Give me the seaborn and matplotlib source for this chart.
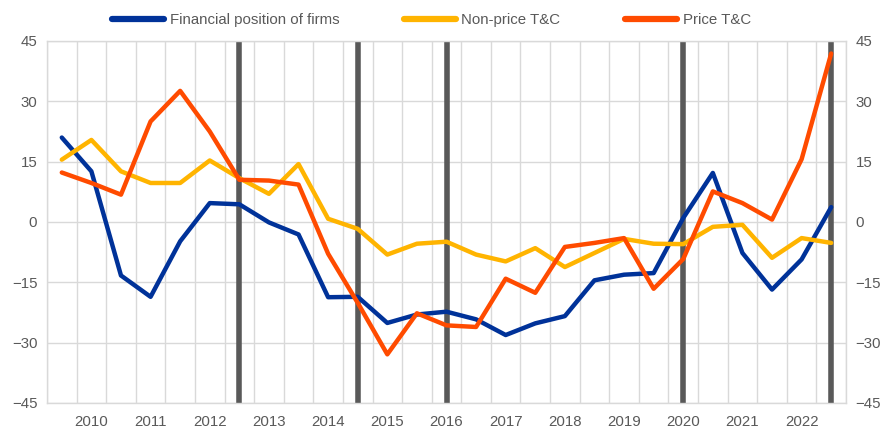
import numpy as np
import pandas as pd
import matplotlib
matplotlib.use("Agg")
import matplotlib.pyplot as plt
import seaborn as sns

# half-year survey rounds, 2009H2 .. 2022H2
periods = [f"{y}H{h}" for y in range(2009, 2023) for h in (1, 2)][1:]
year_labels = [str(y) for y in range(2010, 2023)]

financial_position = [21.0, 12.6, -13.3, -18.6, -4.8, 4.7, 4.4, -0.1, -3.1, -18.7,
                      -18.6, -25.1, -23.0, -22.3, -24.2, -28.1, -25.2, -23.4, -14.5,
                      -13.1, -12.7, 1.0, 12.2, -7.7, -16.8, -9.3, 3.7]
non_price_tc = [15.5, 20.4, 12.6, 9.7, 9.7, 15.3, 10.9, 7.0, 14.4, 0.8,
                -1.7, -8.1, -5.4, -4.9, -8.1, -9.8, -6.5, -11.2, -7.7,
                -4.2, -5.4, -5.5, -1.2, -0.7, -8.9, -4.0, -5.2]
price_tc = [12.3, 9.7, 6.8, 25.0, 32.6, 22.5, 10.5, 10.3, 9.3, -7.9,
            -20.1, -32.9, -22.7, -25.7, -26.1, -14.1, -17.6, -6.2, -5.2,
            -4.0, -16.6, -9.2, 7.6, 4.7, 0.6, 15.6, 41.9]
event_periods = ["2012H2", "2014H2", "2016H1", "2020H1", "2022H2"]

series_names = ["Financial position of firms", "Non-price T&C", "Price T&C"]
colors = ["#003299", "#FFB400", "#FF4B00"]

df = pd.DataFrame({"period": periods,
                   series_names[0]: financial_position,
                   series_names[1]: non_price_tc,
                   series_names[2]: price_tc})
df["x"] = np.arange(len(df))
long = df.melt(id_vars=["period", "x"], value_vars=series_names,
               var_name="series", value_name="value")

sns.set_theme(style="white")
plt.rcParams["font.family"] = ["Liberation Sans", "DejaVu Sans"]

fig = plt.figure(figsize=(8.82, 4.28), dpi=100)
ax = fig.add_axes([47 / 882, 1 - 403 / 428, 799 / 882, 362 / 428])

grid_c = "#d9d9d9"
text_c = "#595959"
fs = 10.8

# event markers
for p in event_periods:
    ax.axvline(periods.index(p), color="#595959", lw=4, zorder=1.5)

sns.lineplot(data=long, x="x", y="value", hue="series", hue_order=series_names,
             palette=colors, lw=3.2, ax=ax, legend=False, zorder=3)

n = len(periods)
ax.set_xlim(-0.5, n - 0.5)
ax.set_ylim(-45, 45)
ax.set_yticks(np.arange(-45, 46, 15))
ax.set_xticks(np.arange(1, n, 2))
ax.set_xticklabels(year_labels)
ax.set_xticks(np.arange(-0.5, n, 1), minor=True)
ax.grid(axis="y", color=grid_c, lw=1, zorder=0)
ax.grid(axis="x", which="minor", color=grid_c, lw=1, zorder=0)
ax.grid(axis="x", which="major", visible=False)
ax.set_axisbelow(True)
for s in ax.spines.values():
    s.set_color(grid_c)
    s.set_linewidth(1)
ax.set_xlabel("")
ax.set_ylabel("")
ax.tick_params(axis="both", which="both", length=0, labelsize=fs, colors=text_c)
ax.tick_params(axis="x", pad=8.5)
ax.tick_params(axis="y", pad=7)

ax2 = ax.twinx()
ax2.set_ylim(ax.get_ylim())
ax2.set_yticks(np.arange(-45, 46, 15))
ax2.tick_params(axis="y", length=0, labelsize=fs, colors=text_c, pad=7)
for s in ax2.spines.values():
    s.set_visible(False)
ax2.grid(False)

handles = [plt.Line2D([], [], color=c, lw=4.5, solid_capstyle="round") for c in colors]
fig.legend(handles, series_names, loc="center", bbox_to_anchor=(0.489, 1 - 20 / 428),
           ncol=3, frameon=False, fontsize=fs, handlelength=3.5, handletextpad=0.35,
           columnspacing=4.3, labelcolor=text_c)

fig.savefig("out.png", dpi=100)
